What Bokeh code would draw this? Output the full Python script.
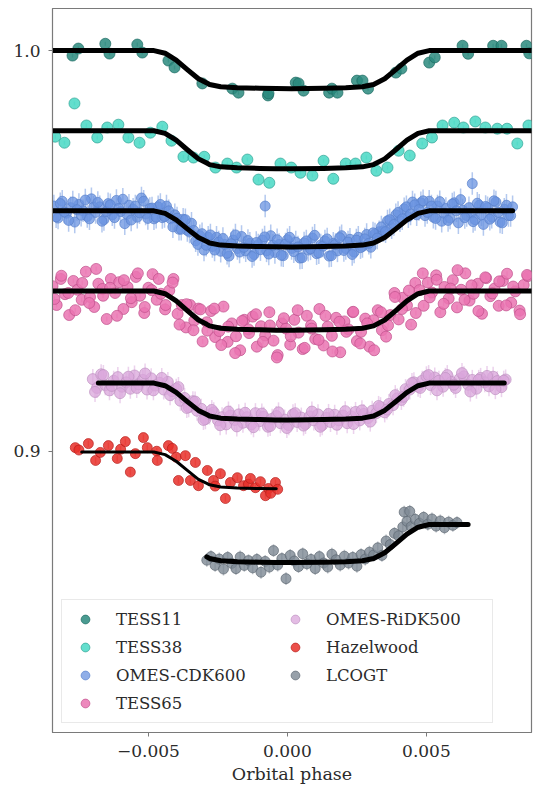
import numpy as np
from bokeh.plotting import figure
from bokeh.models import ColumnDataSource, FixedTicker, Range1d, Legend, LegendItem
from bokeh.embed import file_html
from bokeh.resources import INLINE

SERIES = ["TESS11", "TESS38", "OMES-CDK600", "TESS65", "OMES-RiDK500", "Hazelwood", "LCOGT"]

# ---- transit model profile (fraction of full depth)
MODEL_PHASE = [-0.0088, -0.0074, -0.0068, -0.0048, -0.0044, -0.0040, -0.0036, -0.0032, -0.0029,
               -0.0028, -0.0024, -0.0018, -0.0010, -0.0004, 0.00015, 0.0013, 0.0021, 0.0027,
               0.0031, 0.0035, 0.0039, 0.0043, 0.0047, 0.0051, 0.0065, 0.0078, 0.0081, 0.0088]
MODEL_FRAC = [0, 0, 0, 0, 0.07, 0.25, 0.50, 0.74, 0.85,
              0.89, 0.95, 0.975, 0.99, 0.998, 1.0, 0.99, 0.975, 0.95,
              0.89, 0.74, 0.50, 0.25, 0.07, 0, 0, 0, 0, 0]
BASELINE = [1.0, 0.98, 0.96, 0.94, 0.917, 0.8998, 0.8817]
DEPTH = [0.0095, 0.0095, 0.009, 0.0098, 0.0092, 0.0092, 0.0095]
MODEL_LO = [-0.0088, -0.0088, -0.0088, -0.0088, -0.0068, -0.0074, -0.0029]
MODEL_HI = [0.0088, 0.0088, 0.0081, 0.0088, 0.0078, -0.0004, 0.0065]

# ---- data
TESS11_PHASE = [-0.00773, -0.00752, -0.00655, -0.0064, -0.0054, -0.00522, -0.00428, -0.00406, -0.00306,
                -0.00198, -0.00176, -0.0007, -0.00068, 0.0003, 0.0004, 0.00058, 0.0015, 0.0016, 0.0018,
                0.0025, 0.0027, 0.0029, 0.0039, 0.0041, 0.0051, 0.0053, 0.0063, 0.0065, 0.0074, 0.0077,
                0.0086, 0.0087]
TESS11_FLUX = [0.99875, 1.0005, 1.0017, 0.99925, 1.0015, 0.9995, 0.9975, 0.9958, 0.9918,
               0.9905, 0.9895, 0.9888, 0.9893, 0.992, 0.9918, 0.99, 0.9895, 0.9905, 0.9895,
               0.9925, 0.9925, 0.9905, 0.9945, 0.9955, 0.997, 0.9983, 1.0012, 0.9992, 1.0012, 1.0012,
               1.0012, 0.9993]

TESS38_PHASE = [-0.00835, -0.00802, -0.00766, -0.00723, -0.00684, -0.00648, -0.00608, -0.00572, -0.00532,
                -0.00493, -0.0045, -0.00417, -0.00374, -0.00338, -0.00299, -0.00259, -0.00216, -0.00183,
                -0.00144, -0.00104, -0.00065, -0.00025, 0.00014, 0.00047, 0.0009, 0.0013, 0.00165, 0.0021,
                0.00245, 0.00284, 0.0032, 0.0036, 0.004, 0.0044, 0.00485, 0.0052, 0.00558, 0.006,
                0.00633, 0.00676, 0.00712, 0.00755, 0.0079, 0.00827, 0.00867]
TESS38_FLUX = [0.9785, 0.977, 0.9868, 0.9813, 0.9783, 0.9808, 0.9815, 0.9783, 0.977,
               0.9795, 0.981, 0.9775, 0.9735, 0.9733, 0.9735, 0.9708, 0.9718, 0.9708,
               0.9728, 0.9678, 0.967, 0.9718, 0.9708, 0.9695, 0.9688, 0.9725, 0.968, 0.9718,
               0.9718, 0.9733, 0.97, 0.9708, 0.975, 0.9738, 0.9768, 0.9783, 0.9813, 0.982,
               0.9808, 0.9823, 0.9808, 0.9805, 0.9805, 0.9768, 0.9813]

# phases of the dense series are written in units of 1e-4
CDK600_PHASE_E4 = [-84, -82.5, -81, -79.5, -78, -76.5, -75, -73.5, -72, -70.5, -69, -67.5, -66, -64.5,
                   -63, -61.5, -60, -58.5, -57, -55.5, -54, -52.5, -51, -49.5, -48, -46.5, -45, -43.5,
                   -42, -40.5, -39, -37.5, -36, -34.5, -33, -31.5, -30, -28.5, -27, -25.5, -24, -22.5,
                   -21, -19.5, -18, -16.5, -15, -13.5, -12, -10.5, -9, -8, -7.5, -6, -4.5, -3, -1.5,
                   0, 1.5, 3, 4.5, 6, 7.5, 9, 10.5, 12, 13.5, 15, 16.5, 18, 19.5, 21, 22.5, 24, 25.5,
                   27, 28.5, 30, 31.5, 33, 34.5, 36, 37.5, 39, 40.5, 42, 43.5, 45, 46.5, 48, 49.5, 51,
                   52.5, 54, 55.5, 57, 58.5, 60, 61.5, 63, 64.5, 66, 66.5, 67.5, 69, 70.5, 72, 73.5,
                   75, 76.5, 78, 79.5, 81]
CDK600_FLUX = [0.9612, 0.9582, 0.9624, 0.9594, 0.9608, 0.9572, 0.9616, 0.9600, 0.9586, 0.9630, 0.9596,
               0.9610, 0.9578, 0.9618, 0.9590, 0.9626, 0.9598, 0.9568, 0.9614, 0.9604, 0.9584, 0.9632,
               0.9592, 0.9606, 0.9580, 0.9610, 0.9583, 0.9612, 0.9580, 0.9590, 0.9554, 0.9579, 0.9551,
               0.9569, 0.9525, 0.9538, 0.9502, 0.9534, 0.9511, 0.9534, 0.9499, 0.9516, 0.9487, 0.9527,
               0.9506, 0.9536, 0.9500, 0.9519, 0.9491, 0.9515, 0.9527, 0.9612, 0.9500, 0.9538, 0.9496,
               0.9516, 0.9488, 0.9528, 0.9506, 0.9522, 0.9482, 0.9520, 0.9502, 0.9532, 0.9493, 0.9515,
               0.9525, 0.9487, 0.9519, 0.9500, 0.9538, 0.9506, 0.9529, 0.9497, 0.9534, 0.9511, 0.9541,
               0.9509, 0.9542, 0.9548, 0.9550, 0.9575, 0.9558, 0.9590, 0.9575, 0.9605, 0.9585, 0.9622,
               0.9590, 0.9620, 0.9588, 0.9624, 0.9584, 0.9612, 0.9574, 0.9606, 0.9582, 0.9620, 0.9570,
               0.9602, 0.9588, 0.9594, 0.9668, 0.9578, 0.9614, 0.9566, 0.9608, 0.9584, 0.9622, 0.9572,
               0.9604, 0.9588, 0.9610]
CDK600B_PHASE_E4 = [-83.2, -81.7, -80.2, -78.7, -77.2, -75.7, -74.2, -72.7, -71.2, -69.7, -68.2, -66.7,
                    -65.2, -63.7, -62.2, -60.7, -59.2, -57.7, -56.2, -54.7, -53.2, -51.7, -50.2, -48.7,
                    -47.2, -45.7, -44.2, -42.7, -41.2, -39.7, -38.2, -36.7, -35.2, -33.7, -32.2, -30.7,
                    -29.2, -27.7, -26.2, -24.7, -23.2, -21.7, -20.2, -18.7, -17.2, -15.7, -14.2, -12.7,
                    -11.2, -9.7, -8.2, -6.7, -5.2, -3.7, -2.2, -0.7, 0.8, 2.3, 3.8, 5.3, 6.8, 8.3, 9.8,
                    11.3, 12.8, 14.3, 15.8, 17.3, 18.8, 20.3, 21.8, 23.3, 24.8, 26.3, 27.8, 29.3, 30.8,
                    32.3, 33.8, 35.3, 36.8, 38.3, 39.8, 41.3, 42.8, 44.3, 45.8, 47.3, 48.8, 50.3, 51.8,
                    53.3, 54.8, 56.3, 57.8, 59.3, 60.8, 62.3, 63.8, 65.3, 66.8, 68.3, 69.8, 71.3, 72.8,
                    74.3, 75.8, 77.3, 78.8, 80.3]
CDK600B_FLUX = [0.9585, 0.9618, 0.9597, 0.9576, 0.9622, 0.9603, 0.9589, 0.9627, 0.9580, 0.9609, 0.9621,
                0.9574, 0.9598, 0.9615, 0.9583, 0.9606, 0.9629, 0.9591, 0.9577, 0.9612, 0.9595, 0.9624,
                0.9581, 0.9607, 0.9584, 0.9616, 0.9586, 0.9600, 0.9560, 0.9582, 0.9554, 0.9578, 0.9547,
                0.9551, 0.9516, 0.9543, 0.9514, 0.9540, 0.9502, 0.9522, 0.9531, 0.9494, 0.9518, 0.9540,
                0.9497, 0.9509, 0.9526, 0.9486, 0.9521, 0.9503, 0.9535, 0.9492, 0.9514, 0.9528, 0.9489,
                0.9517, 0.9534, 0.9498, 0.9510, 0.9483, 0.9525, 0.9505, 0.9539, 0.9495, 0.9512, 0.9530,
                0.9488, 0.9516, 0.9533, 0.9501, 0.9522, 0.9491, 0.9527, 0.9508, 0.9530, 0.9519, 0.9545,
                0.9532, 0.9560, 0.9548, 0.9578, 0.9566, 0.9596, 0.9580, 0.9610, 0.9592, 0.9615, 0.9603,
                0.9625, 0.9596, 0.9612, 0.9581, 0.9623, 0.9594, 0.9576, 0.9617, 0.9600, 0.9628, 0.9583,
                0.9608, 0.9573, 0.9619, 0.9590, 0.9611, 0.9579, 0.9625, 0.9596, 0.9570, 0.9614, 0.9588]

TESS65_PHASE_E4 = [-84.5, -83, -81.5, -80, -78.5, -77, -75.5, -74, -72.5, -71, -69.5, -68, -66.5, -65,
                   -63.5, -62, -60.5, -59, -57.5, -56, -54.5, -53, -51.5, -50, -48.5, -47, -45.5, -44,
                   -42.5, -41, -39.5, -38, -36.5, -35, -33.5, -32, -30.5, -29, -27.5, -26, -24.5, -23,
                   -21.5, -20, -18.5, -17, -15.5, -14, -12.5, -11, -9.5, -8, -6.5, -5, -3.5, -2, -0.5,
                   1, 2.5, 4, 5.5, 7, 8.5, 10, 11.5, 13, 14.5, 16, 17.5, 19, 20.5, 22, 23.5, 25, 26.5,
                   28, 29.5, 31, 32.5, 34, 35.5, 37, 38.5, 40, 41.5, 43, 44.5, 46, 47.5, 49, 50.5, 52,
                   53.5, 55, 56.5, 58, 59.5, 61, 62.5, 64, 65.5, 67, 68.5, 70, 71.5, 73, 74.5, 76, 77.5,
                   79, 80.5, 82, 83.5, 85, 86.5]
TESS65_FLUX = [0.9412, 0.9365, 0.9430, 0.9392, 0.9340, 0.9425, 0.9403, 0.9378, 0.9448, 0.9385, 0.9360,
               0.9418, 0.9405, 0.9330, 0.9430, 0.9395, 0.9422, 0.9355, 0.9410, 0.9372, 0.9435, 0.9388,
               0.9345, 0.9408, 0.9442, 0.9378, 0.9393, 0.9354, 0.9401, 0.9430, 0.9343, 0.9365, 0.9309,
               0.9365, 0.9326, 0.9356, 0.9274, 0.9322, 0.9350, 0.9285, 0.9300, 0.9361, 0.9273, 0.9319,
               0.9287, 0.9252, 0.9328, 0.9304, 0.9336, 0.9261, 0.9312, 0.9289, 0.9347, 0.9276, 0.9240,
               0.9319, 0.9306, 0.9266, 0.9328, 0.9296, 0.9255, 0.9338, 0.9314, 0.9280, 0.9355, 0.9264,
               0.9311, 0.9288, 0.9333, 0.9247, 0.9324, 0.9304, 0.9347, 0.9275, 0.9298, 0.9331, 0.9261,
               0.9327, 0.9352, 0.9302, 0.9286, 0.9340, 0.9395, 0.9329, 0.9383, 0.9364, 0.9316, 0.9420,
               0.9402, 0.9363, 0.9421, 0.9396, 0.9439, 0.9347, 0.9410, 0.9381, 0.9427, 0.9359, 0.9403,
               0.9444, 0.9376, 0.9393, 0.9418, 0.9343, 0.9432, 0.9387, 0.9406, 0.9363, 0.9425, 0.9443,
               0.9371, 0.9399, 0.9351, 0.9415, 0.9437]
TESS65B_PHASE_E4 = [-83.8, -81.3, -78.8, -76.3, -73.8, -71.3, -68.8, -66.3, -63.8, -61.3, -58.8, -56.3,
                    -53.8, -51.3, -48.8, -46.3, -43.8, -41.3, -38.8, -36.3, -33.8, -31.3, -28.8, -26.3,
                    -23.8, -21.3, -18.8, -16.3, -13.8, -11.3, -8.8, -6.3, -3.8, -1.3, 1.2, 3.7, 6.2, 8.7,
                    11.2, 13.7, 16.2, 18.7, 21.2, 23.7, 26.2, 28.7, 31.2, 33.7, 36.2, 38.7, 41.2, 43.7,
                    46.2, 48.7, 51.2, 53.7, 56.2, 58.7, 61.2, 63.7, 66.2, 68.7, 71.2, 73.7, 76.2, 78.7,
                    81.2, 83.7, 86.2]
TESS65B_FLUX = [0.9380, 0.9438, 0.9395, 0.9352, 0.9420, 0.9370, 0.9455, 0.9388, 0.9408, 0.9338, 0.9427,
                0.9382, 0.9444, 0.9360, 0.9402, 0.9430, 0.9365, 0.9421, 0.9316, 0.9367, 0.9302, 0.9354,
                0.9301, 0.9356, 0.9265, 0.9311, 0.9245, 0.9325, 0.9295, 0.9342, 0.9273, 0.9314, 0.9234,
                0.9332, 0.9287, 0.9352, 0.9258, 0.9306, 0.9278, 0.9338, 0.9249, 0.9323, 0.9298, 0.9348,
                0.9269, 0.9319, 0.9252, 0.9347, 0.9314, 0.9385, 0.9355, 0.9401, 0.9345, 0.9444, 0.9384,
                0.9428, 0.9368, 0.9406, 0.9452, 0.9378, 0.9414, 0.9350, 0.9434, 0.9394, 0.9424, 0.9364,
                0.9411, 0.9342, 0.9440]

RIDK500_PHASE_E4 = [-70, -68.5, -67, -65.5, -64, -62.5, -61, -59.5, -58, -56.5, -55, -53.5, -52, -50.5,
                    -49, -47.5, -46, -44.5, -43, -41.5, -40, -38.5, -37, -35.5, -34, -32.5, -31, -29.5,
                    -28, -26.5, -25, -23.5, -22, -20.5, -19, -17.5, -16, -14.5, -13, -11.5, -10, -8.5,
                    -7, -5.5, -4, -2.5, -1, 0.5, 2, 3.5, 5, 6.5, 8, 9.5, 11, 12.5, 14, 15.5, 17, 18.5,
                    20, 21.5, 23, 24.5, 26, 27.5, 29, 30.5, 32, 33.5, 35, 36.5, 38, 39.5, 41, 42.5, 44,
                    45.5, 47, 48.5, 50, 51.5, 53, 54.5, 56, 57.5, 59, 60.5, 62, 63.5, 65, 66.5, 68, 69.5,
                    71, 72.5, 74, 75.5, 77, 78.5]
RIDK500_FLUX = [0.9180, 0.9158, 0.9192, 0.9165, 0.9152, 0.9176, 0.9185, 0.9161, 0.9172, 0.9156, 0.9189,
                0.9167, 0.9178, 0.9154, 0.9182, 0.9164, 0.9171, 0.9154, 0.9173, 0.9150, 0.9156, 0.9126,
                0.9133, 0.9110, 0.9125, 0.9101, 0.9106, 0.9080, 0.9092, 0.9097, 0.9077, 0.9085, 0.9067,
                0.9089, 0.9078, 0.9092, 0.9071, 0.9085, 0.9067, 0.9095, 0.9075, 0.9086, 0.9061, 0.9081,
                0.9088, 0.9070, 0.9079, 0.9065, 0.9092, 0.9073, 0.9084, 0.9068, 0.9087, 0.9077, 0.9092,
                0.9065, 0.9083, 0.9073, 0.9091, 0.9077, 0.9089, 0.9070, 0.9087, 0.9098, 0.9077, 0.9093,
                0.9083, 0.9101, 0.9095, 0.9110, 0.9097, 0.9118, 0.9115, 0.9132, 0.9128, 0.9155, 0.9154,
                0.9172, 0.9161, 0.9176, 0.9187, 0.9165, 0.9184, 0.9176, 0.9161, 0.9190, 0.9173, 0.9158,
                0.9181, 0.9187, 0.9166, 0.9178, 0.9156, 0.9183, 0.9172, 0.9162, 0.9186, 0.9175, 0.9160,
                0.9179]
RIDK500B_PHASE_E4 = [-69.2, -66.2, -63.2, -60.2, -57.2, -54.2, -51.2, -48.2, -45.2, -42.2, -39.2, -36.2,
                     -33.2, -30.2, -27.2, -24.2, -21.2, -18.2, -15.2, -12.2, -9.2, -6.2, -3.2, -0.2, 2.8,
                     5.8, 8.8, 11.8, 14.8, 17.8, 20.8, 23.8, 26.8, 29.8, 32.8, 35.8, 38.8, 41.8, 44.8,
                     47.8, 50.8, 53.8, 56.8, 59.8, 62.8, 65.8, 68.8, 71.8, 74.8, 77.8]
RIDK500B_FLUX = [0.9148, 0.9190, 0.9163, 0.9145, 0.9186, 0.9158, 0.9194, 0.9152, 0.9183, 0.9140, 0.9160,
                 0.9108, 0.9124, 0.9078, 0.9103, 0.9065, 0.9099, 0.9062, 0.9096, 0.9060, 0.9094, 0.9063,
                 0.9097, 0.9058, 0.9095, 0.9064, 0.9099, 0.9061, 0.9093, 0.9066, 0.9100, 0.9068, 0.9102,
                 0.9074, 0.9113, 0.9104, 0.9140, 0.9136, 0.9170, 0.9158, 0.9190, 0.9152, 0.9183, 0.9166,
                 0.9195, 0.9149, 0.9178, 0.9188, 0.9155, 0.9176]

HAZEL_PHASE = [-0.00763, -0.0075, -0.00716, -0.0069, -0.00673, -0.00644, -0.00612, -0.006, -0.00583,
               -0.00565, -0.00547, -0.00518, -0.00504, -0.0047, -0.00468, -0.00428, -0.00414, -0.004,
               -0.00392, -0.00367, -0.00349, -0.00331, -0.0032, -0.00288, -0.00266, -0.0026, -0.00241,
               -0.00223, -0.00205, -0.0018, -0.00158, -0.0014, -0.00133, -0.00115, -0.00097, -0.00079,
               -0.00068, -0.0006, -0.00043, -0.00035]
HAZEL_FLUX = [0.9009, 0.9003, 0.9019, 0.8977, 0.8997, 0.9014, 0.8982, 0.9005, 0.9024,
              0.8948, 0.8994, 0.9034, 0.9009, 0.9000, 0.8977, 0.9014, 0.9007, 0.8985,
              0.8927, 0.8989, 0.8927, 0.8972, 0.8914, 0.8952, 0.8927, 0.8913, 0.8944,
              0.8882, 0.8922, 0.8934, 0.8914, 0.8918, 0.8932, 0.8909, 0.8924, 0.8889,
              0.8907, 0.8895, 0.8922, 0.8905]

LCOGT_PHASE_E4 = [-29, -27.5, -26, -24.5, -23, -21.5, -20, -18.5, -17, -15.5, -14, -12.5, -11, -9.5, -8,
                  -6.5, -5, -3.5, -2, -0.5, 1, 2.5, 4, 5.5, 7, 8.5, 10, 11.5, 13, 14.5, 16, 17.5, 19,
                  20.5, 22, 23.5, 25, 26.5, 28, 29.5, 31, 32.5, 34, 35.5, 37, 38.5, 40, 41.5, 42, 43,
                  44, 44.5, 46, 47.5, 49, 50.5, 52, 53.5, 55, 56.5, 58, 59.5, 61]
LCOGT_FLUX = [0.8728, 0.8737, 0.8715, 0.8731, 0.8706, 0.8735, 0.8720, 0.8707, 0.8736, 0.8715, 0.8727,
              0.8709, 0.8730, 0.8698, 0.8725, 0.8711, 0.8752, 0.8716, 0.8732, 0.8682, 0.8740, 0.8726,
              0.8712, 0.8744, 0.8719, 0.8730, 0.8707, 0.8737, 0.8721, 0.8711, 0.8743, 0.8729, 0.8716,
              0.8738, 0.8721, 0.8735, 0.8713, 0.8742, 0.8731, 0.8748, 0.8741, 0.8759, 0.8740, 0.8776,
              0.8767, 0.8795, 0.8789, 0.8811, 0.8848, 0.8825, 0.8850, 0.8812, 0.8830, 0.8820, 0.8835,
              0.8818, 0.8831, 0.8813, 0.8826, 0.8809, 0.8823, 0.8815, 0.8822]

ERRORS = [0.0005, 0.0005, 0.0028, 0.0006, 0.0025, 0.0008, 0.0016]
FILL = ["#2a8a7e", "#48d8c4", "#6a93e0", "#ea74b2", "#d9a5db", "#e8302a", "#7d8893"]
EDGE = ["#1d6b62", "#2fa394", "#5a82cc", "#c0508c", "#bf93c2", "#b8201c", "#5f6a74"]
SIZES = [11, 11, 10, 11, 11, 10, 10]
FILL_ALPHA = [0.85, 0.85, 0.75, 0.85, 0.75, 0.85, 0.8]
LINE_W = [5, 5, 5, 5, 5, 3, 5]

phases = [np.array(TESS11_PHASE), np.array(TESS38_PHASE),
          np.array(CDK600_PHASE_E4 + CDK600B_PHASE_E4) * 1e-4,
          np.array(TESS65_PHASE_E4 + TESS65B_PHASE_E4) * 1e-4,
          np.array(RIDK500_PHASE_E4 + RIDK500B_PHASE_E4) * 1e-4,
          np.array(HAZEL_PHASE), np.array(LCOGT_PHASE_E4) * 1e-4]
fluxes = [np.array(TESS11_FLUX), np.array(TESS38_FLUX), np.array(CDK600_FLUX + CDK600B_FLUX),
          np.array(TESS65_FLUX + TESS65B_FLUX), np.array(RIDK500_FLUX + RIDK500B_FLUX),
          np.array(HAZEL_FLUX), np.array(LCOGT_FLUX)]

SERIF = "DejaVu Serif"
TXT = "#2b2b2b"
FRAME = "#7a7a7a"

p = figure(width=533, height=791, output_backend="svg", toolbar_location=None,
           x_range=Range1d(-0.00845, 0.00878), y_range=Range1d(0.8298, 1.0105),
           min_border_left=52, min_border_right=2, min_border_top=8, min_border_bottom=59)
p.xgrid.visible = False
p.ygrid.visible = False
p.outline_line_color = FRAME
p.outline_line_width = 1.2

mph = np.array(MODEL_PHASE)
mfr = np.array(MODEL_FRAC)
items = []
for i, name in enumerate(SERIES):
    ph, fl, e = phases[i], fluxes[i], ERRORS[i]
    src = ColumnDataSource(dict(x=ph, y=fl, lo=fl - e, hi=fl + e))
    p.segment(x0="x", y0="lo", x1="x", y1="hi", source=src, line_color=FILL[i],
              line_alpha=0.5, line_width=1.5)
    r = p.scatter(x="x", y="y", source=src, size=SIZES[i], marker="circle",
                  fill_color=FILL[i], fill_alpha=FILL_ALPHA[i], line_color=EDGE[i], line_alpha=0.7,
                  line_width=1)
    sel = (mph >= MODEL_LO[i] - 1e-9) & (mph <= MODEL_HI[i] + 1e-9)
    p.line(mph[sel], BASELINE[i] - DEPTH[i] * mfr[sel], line_color="black",
           line_width=LINE_W[i], line_join="round", line_cap="round")
    items.append(LegendItem(label=name, renderers=[r]))

for ax in (p.xaxis[0], p.yaxis[0]):
    ax.axis_line_color = FRAME
    ax.major_tick_line_color = FRAME
    ax.major_tick_out = 4
    ax.major_tick_in = 0
    ax.minor_tick_line_color = None
    ax.major_label_text_font = SERIF
    ax.major_label_text_font_size = "17px"
    ax.major_label_text_color = TXT

p.xaxis.ticker = FixedTicker(ticks=[-0.005, 0.0, 0.005])
p.xaxis.major_label_overrides = {-0.005: "\u22120.005", 0: "0.000", 0.005: "0.005"}
p.xaxis.major_label_standoff = 8
p.xaxis.axis_label = "Orbital phase"
p.xaxis.axis_label_text_font = SERIF
p.xaxis.axis_label_text_font_size = "17.5px"
p.xaxis.axis_label_text_font_style = "normal"
p.xaxis.axis_label_text_color = TXT
p.xaxis.axis_label_standoff = 4

p.yaxis.ticker = FixedTicker(ticks=[0.9, 1.0])
p.yaxis.major_label_overrides = {0.9: "0.9", 1: "1.0"}
p.yaxis.major_label_standoff = 8

legend = Legend(items=items, location="bottom_left", orientation="vertical", ncols=2)
legend.margin = 9
legend.padding = 8
legend.spacing = 6
legend.glyph_width = 30
legend.glyph_height = 22
legend.label_height = 22
legend.label_standoff = 16
legend.label_width = 158
legend.label_text_font = SERIF
legend.label_text_font_size = "16.5px"
legend.label_text_color = TXT
legend.border_line_color = "#d4d4d4"
legend.border_line_width = 1
legend.background_fill_alpha = 0.85
p.add_layout(legend)

open("out.html", "w").write(file_html(p, INLINE))
